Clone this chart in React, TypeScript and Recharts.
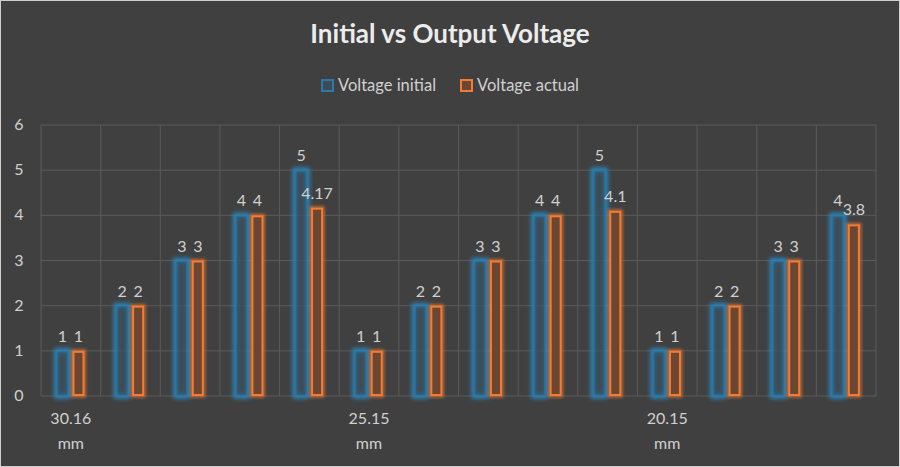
import React from 'react';
import { BarChart, Bar, XAxis, YAxis, CartesianGrid, LabelList } from 'recharts';

const categories = ['30.16 mm', '', '', '', '', '25.15 mm', '', '', '', '', '20.15 mm', '', '', ''];
const voltageInitial = [1, 2, 3, 4, 5, 1, 2, 3, 4, 5, 1, 2, 3, 4];
const voltageActual = [1, 2, 3, 4, 4.17, 1, 2, 3, 4, 4.1, 1, 2, 3, 3.8];
const yTicks = [0, 1, 2, 3, 4, 5, 6];

const data = categories.map((cat, i) => ({
  cat,
  initial: voltageInitial[i],
  actual: voltageActual[i],
}));

const BLUE = '#2a87c0';
const ORANGE = '#f47c32';
const TEXT = '#d0d0d0';
const FONT = 'Lato, "Open Sans", sans-serif';

const BlueBar = (props: any) => {
  const { x, y, width, height } = props;
  if (!height) return null;
  return (
    <g>
      <rect x={x} y={y} width={width} height={height} fill="none" stroke={BLUE} strokeWidth={5} filter="url(#glowBlue)" />
      <rect x={x + 1} y={y + 1} width={width - 2} height={height - 2} fill="#3c4f5c" stroke="#1f6f9f" strokeWidth={1.2} opacity={0.7} />
    </g>
  );
};

const OrangeBar = (props: any) => {
  const { x, y, width, height } = props;
  if (!height) return null;
  return (
    <g>
      <rect x={x} y={y} width={width} height={height} fill="none" stroke={ORANGE} strokeWidth={3} filter="url(#glowOrange)" opacity={0.7} />
      <rect x={x + 1} y={y + 1} width={width - 2} height={height - 2} fill="#6b4632" stroke={ORANGE} strokeWidth={2} />
    </g>
  );
};

const XTick = (props: any) => {
  const { x, y, payload } = props;
  const parts = String(payload.value).split(' ');
  if (!payload.value) return null;
  return (
    <text x={x} y={y} textAnchor="middle" fill={TEXT} fontSize={16} fontFamily={FONT}>
      <tspan x={x} dy={20}>{parts[0]}</tspan>
      <tspan x={x} dy={25}>{parts[1]}</tspan>
    </text>
  );
};

const YTick = (props: any) => {
  const { y, payload } = props;
  return (
    <text x={18} y={y + 5} textAnchor="middle" fill={TEXT} fontSize={16} fontFamily={FONT}>
      {payload.value}
    </text>
  );
};

const LegendBox = () => (
  <div style={{ position: 'absolute', top: 74, left: 0, width: 898, display: 'flex', justifyContent: 'center', gap: 24, fontFamily: FONT, fontSize: 16.5, color: TEXT }}>
    <span style={{ display: 'flex', alignItems: 'center' }}>
      <span style={{ width: 9, height: 9, border: `2px solid ${BLUE}`, background: '#3c4f5c', marginRight: 4, opacity: 0.8 }} />
      Voltage initial
    </span>
    <span style={{ display: 'flex', alignItems: 'center' }}>
      <span style={{ width: 9, height: 9, border: `2px solid ${ORANGE}`, background: '#6b4632', marginRight: 4 }} />
      Voltage actual
    </span>
  </div>
);

export default function App() {
  return (
    <div style={{ position: 'relative', width: 900, height: 467, background: '#404040', boxSizing: 'border-box', border: '1px solid #cfcfcf' }}>
      <style>{'body{margin:0}'}</style>
      <div style={{ position: 'absolute', top: 16, left: 0, width: 898, textAlign: 'center', fontFamily: FONT, fontWeight: 700, fontSize: 26, color: '#ececec' }}>
        Initial vs Output Voltage
      </div>
      <LegendBox />
      <BarChart
        width={898}
        height={465}
        data={data}
        margin={{ top: 124, right: 23, bottom: 40, left: 0 }}
        barCategoryGap="26%"
        barGap={4}
        style={{ position: 'absolute', top: 0, left: 0 }}
      >
        <defs>
          <filter id="glowBlue" x="-100%" y="-20%" width="300%" height="140%">
            <feGaussianBlur stdDeviation="2.2" />
          </filter>
          <filter id="glowOrange" x="-100%" y="-20%" width="300%" height="140%">
            <feGaussianBlur stdDeviation="1.5" />
          </filter>
        </defs>
        <CartesianGrid
          stroke="#5a5a5a"
          strokeWidth={1}
          verticalCoordinatesGenerator={({ offset }: any) =>
            categories.map((_, i) => offset.left + (i * offset.width) / categories.length).concat(offset.left + offset.width)
          }
        />
        <XAxis dataKey="cat" height={30} tick={<XTick />} axisLine={false} tickLine={false} interval={0} />
        <YAxis domain={[0, 6]} ticks={yTicks} tick={<YTick />} axisLine={false} tickLine={false} width={40} />
        <Bar dataKey="initial" name="Voltage initial" shape={<BlueBar />} isAnimationActive={false}>
          <LabelList dataKey="initial" position="top" offset={9} fill={TEXT} fontSize={16} fontFamily={FONT} />
        </Bar>
        <Bar dataKey="actual" name="Voltage actual" shape={<OrangeBar />} isAnimationActive={false}>
          <LabelList dataKey="actual" position="top" offset={9} fill={TEXT} fontSize={16} fontFamily={FONT} />
        </Bar>
      </BarChart>
    </div>
  );
}
